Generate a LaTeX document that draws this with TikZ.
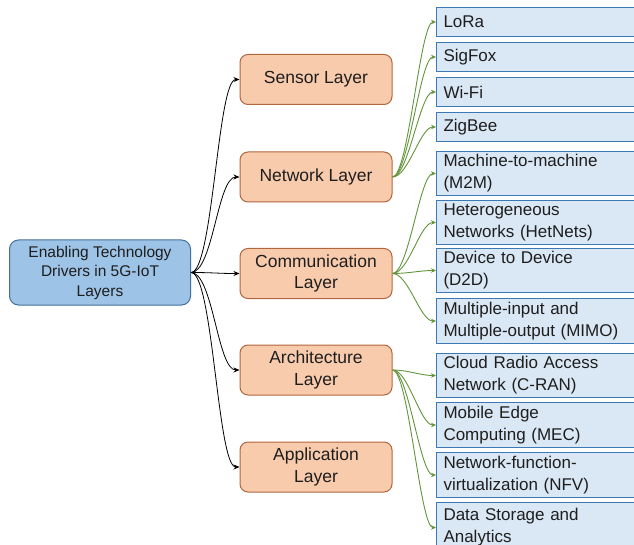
\documentclass[tikz,border=0pt]{standalone}
\usepackage{fontspec}
\setmainfont{Liberation Sans}
\usetikzlibrary{arrows.meta}
\definecolor{rootfill}{RGB}{157,195,230}
\definecolor{rootline}{RGB}{65,113,156}
\definecolor{layerfill}{RGB}{248,203,173}
\definecolor{layerline}{RGB}{178,102,62}
\definecolor{techfill}{RGB}{218,231,245}
\definecolor{techline}{RGB}{60,120,180}
\definecolor{techarrow}{RGB}{98,148,58}
\definecolor{inktext}{RGB}{30,30,30}
\begin{document}
\begin{tikzpicture}[x=1pt,y=-1pt,
   every node/.style={text=inktext},
   root/.style={draw=rootline,fill=rootfill,line width=1pt,rounded corners=9pt,minimum width=181pt,minimum height=65pt,align=center,font=\fontsize{15.5}{19.5}\selectfont},
   layer/.style={draw=layerline,fill=layerfill,line width=1pt,rounded corners=8pt,minimum width=152pt,minimum height=50pt,align=center,font=\fontsize{17.5}{21.5}\selectfont},
   tech/.style={draw=techline,fill=techfill,line width=1pt,anchor=north west,text width=196pt,inner xsep=7pt,inner ysep=0pt,align=left,font=\fontsize{17}{22}\selectfont},
   to/.style={-{Stealth[length=6pt,width=5pt]},black,line width=0.8pt,out=0,in=180,distance=22pt},
   sub/.style={-{Stealth[length=5pt,width=4.5pt]},techarrow,line width=0.9pt,out=0,in=180,distance=16pt}]
\clip (0,0) rectangle (634,545);
\node[root] (root) at (100,272.5) {Enabling Technology\\Drivers in 5G-IoT\\Layers};
\node[layer] (sensor) at (316,79.5) {Sensor Layer};
\node[layer] (network) at (316,177) {Network Layer};
\node[layer] (comm) at (316,273.5) {Communication\\Layer};
\node[layer] (arch) at (316,370) {Architecture\\Layer};
\node[layer] (app) at (316,467) {Application\\Layer};
\node[tech,minimum height=29pt] (lora) at (436,7) {LoRa};
\node[tech,minimum height=29pt] (sigfox) at (436,42) {SigFox};
\node[tech,minimum height=29pt] (wifi) at (436,77) {Wi-Fi};
\node[tech,minimum height=29pt] (zigbee) at (436,112) {ZigBee};
\node[tech,minimum height=44pt] (mtm) at (436,151) {Machine-to-machine\\(M2M)};
\node[tech,minimum height=44pt] (hetnet) at (436,200) {Heterogeneous\\Networks (HetNets)};
\node[tech,minimum height=44pt] (dtd) at (436,248) {Device to Device\\(D2D)};
\node[tech,minimum height=45pt] (mimo) at (436,298) {Multiple-input and\\Multiple-output (MIMO)};
\node[tech,minimum height=44pt] (cran) at (436,353) {Cloud Radio Access\\Network (C-RAN)};
\node[tech,minimum height=45pt] (mec) at (436,402) {Mobile Edge\\Computing (MEC)};
\node[tech,minimum height=45pt] (nfv) at (436,452) {Network-function-\\virtualization (NFV)};
\node[tech,minimum height=50pt] (storage) at (436,502) {Data Storage and\\Analytics};
\draw[to] (root.east) to (sensor.west);
\draw[to] (root.east) to (network.west);
\draw[to] (root.east) to (comm.west);
\draw[to] (root.east) to (arch.west);
\draw[to] (root.east) to (app.west);
\draw[sub] (network.east) to (lora.west);
\draw[sub] (network.east) to (sigfox.west);
\draw[sub] (network.east) to (wifi.west);
\draw[sub] (network.east) to (zigbee.west);
\draw[sub] (comm.east) to (mtm.west);
\draw[sub] (comm.east) to (hetnet.west);
\draw[sub] (comm.east) to (dtd.west);
\draw[sub] (comm.east) to (mimo.west);
\draw[sub] (arch.east) to (cran.west);
\draw[sub] (arch.east) to (mec.west);
\draw[sub] (arch.east) to (nfv.west);
\draw[sub] (arch.east) to (storage.west);
\end{tikzpicture}
\end{document}
